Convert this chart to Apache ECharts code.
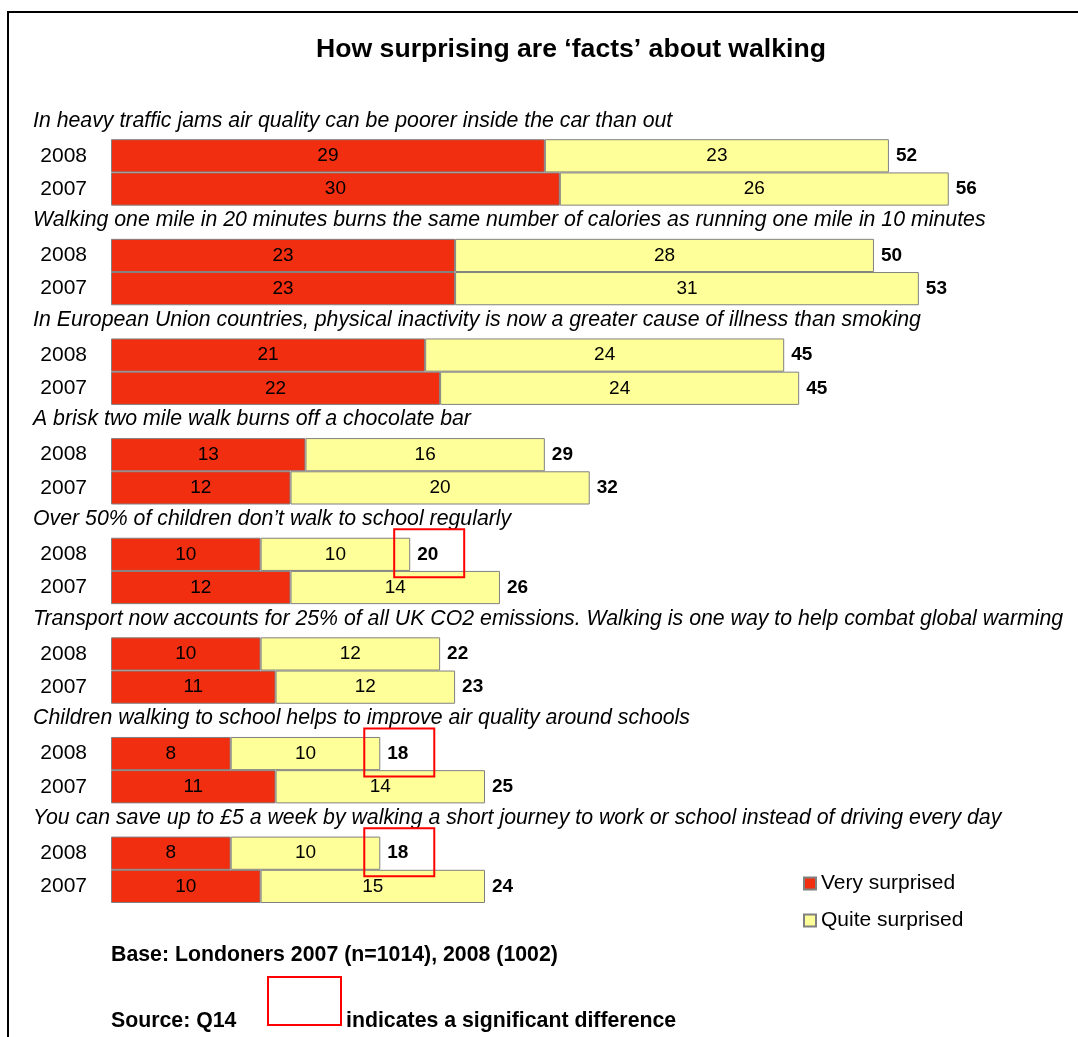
<!DOCTYPE html>
<html>
<head>
<meta charset="utf-8">
<script src="https://cdn.jsdelivr.net/npm/echarts@6/dist/echarts.min.js"></script>
<style>
html,body{margin:0;padding:0;background:#fff;}
#chart{width:1078px;height:1037px;}
</style>
</head>
<body>
<div id="chart"></div>
<script>
const statements = [
  "In heavy traffic jams air quality can be poorer inside the car than out",
  "Walking one mile in 20 minutes burns the same number of calories as running one mile in 10 minutes",
  "In European Union countries, physical inactivity is now a greater cause of illness than smoking",
  "A brisk two mile walk burns off a chocolate bar",
  "Over 50% of children don\u2019t walk to school regularly",
  "Transport now accounts for 25% of all UK CO2 emissions. Walking is one way to help combat global warming",
  "Children walking to school helps to improve air quality around schools",
  "You can save up to \u00a35 a week by walking a short journey to work or school instead of driving every day"
];
const years = ["2008", "2007"];
const very2008  = [29, 23, 21, 13, 10, 10, 8, 8];
const quite2008 = [23, 28, 24, 16, 10, 12, 10, 10];
const total2008 = [52, 50, 45, 29, 20, 22, 18, 18];
const very2007  = [30, 23, 22, 12, 12, 11, 11, 10];
const quite2007 = [26, 31, 24, 20, 14, 12, 14, 15];
const total2007 = [56, 53, 45, 32, 26, 23, 25, 24];
const significant2008 = [false, false, false, false, true, false, true, true];

// Build category slots: [statement, 2008, 2007] per statement
const cats = [], yearLabel = [], veryData = [], quiteData = [], totalData = [], stmtData = [];
statements.forEach((s, g) => {
  const base = g * 3;
  cats.push(String(base), String(base + 1), String(base + 2));
  yearLabel.push("", years[0], years[1]);
  veryData.push("-", very2008[g], very2007[g]);
  quiteData.push("-", quite2008[g], quite2007[g]);
  stmtData.push([0, base, g]);
  totalData.push([very2008[g] + quite2008[g], base + 1, total2008[g], significant2008[g] ? 1 : 0]);
  totalData.push([very2007[g] + quite2007[g], base + 2, total2007[g], 0]);
});

const FONT = "Liberation Sans, Arial, sans-serif";
const chart = echarts.init(document.getElementById('chart'));
chart.setOption({
  animation: false,
  backgroundColor: '#ffffff',
  title: {
    text: "How surprising are \u2018facts\u2019 about walking",
    left: 566, top: 31, textAlign: 'center',
    textStyle: {fontFamily: FONT, fontSize: 26.6, fontWeight: 'bold', color: '#000'}
  },
  legend: {
    orient: 'vertical', left: 798, top: 868, itemGap: 16,
    itemWidth: 12, itemHeight: 12, icon: 'rect',
    textStyle: {fontFamily: FONT, fontSize: 21, color: '#000'},
    data: ['Very surprised', 'Quite surprised']
  },
  grid: {left: 111, top: 106, width: 897.6, height: 797, containLabel: false},
  xAxis: {type: 'value', min: 0, max: 60, show: false},
  yAxis: {
    type: 'category', inverse: true, data: cats,
    axisLine: {show: false}, axisTick: {show: false},
    axisLabel: {
      margin: 24, fontFamily: FONT, fontSize: 21, color: '#000',
      formatter: (v, i) => yearLabel[i]
    }
  },
  series: [
    {
      name: 'Very surprised', type: 'bar', stack: 'a', barCategoryGap: 0, barWidth: '100%',
      data: veryData,
      itemStyle: {color: '#F22E10', borderColor: '#808080', borderWidth: 1},
      label: {show: true, position: 'inside', fontFamily: FONT, fontSize: 19, color: '#000'}
    },
    {
      name: 'Quite surprised', type: 'bar', stack: 'a', barCategoryGap: 0, barWidth: '100%',
      data: quiteData,
      itemStyle: {color: '#FFFF99', borderColor: '#808080', borderWidth: 1},
      label: {show: true, position: 'inside', fontFamily: FONT, fontSize: 19, color: '#000'}
    },
    {
      name: 'statements', type: 'custom', data: stmtData, silent: true, z: 5,
      renderItem: (params, api) => {
        const p = api.coord([0, api.value(1)]);
        return {
          type: 'text',
          style: {
            text: statements[api.value(2)], x: 33, y: p[1] - 2,
            font: 'italic 21.3px ' + FONT, fill: '#000',
            textAlign: 'left', textVerticalAlign: 'middle'
          }
        };
      }
    },
    {
      name: 'totals', type: 'custom', data: totalData, silent: true, z: 5,
      renderItem: (params, api) => {
        const p = api.coord([api.value(0), api.value(1)]);
        const children = [{
          type: 'text',
          style: {
            text: String(api.value(2)), x: p[0] + 7, y: p[1],
            font: 'bold 19px ' + FONT, fill: '#000',
            textAlign: 'left', textVerticalAlign: 'middle'
          }
        }];
        if (api.value(3) === 1) {
          children.push({
            type: 'rect',
            shape: {x: p[0] - 16, y: p[1] - 25, width: 70, height: 48},
            style: {fill: 'none', stroke: '#FF0000', lineWidth: 2}
          });
        }
        return {type: 'group', children};
      }
    }
  ],
  graphic: [
    {type: 'polyline', shape: {points: [[8, 1040], [8, 12], [1080, 12]]},
     style: {stroke: '#000', lineWidth: 2, fill: 'none'}},
    {type: 'text', left: 111, top: 945,
     style: {text: 'Base: Londoners 2007 (n=1014), 2008 (1002)', font: 'bold 21.3px ' + FONT, fill: '#000'}},
    {type: 'text', left: 111, top: 1011,
     style: {text: 'Source: Q14', font: 'bold 21.3px ' + FONT, fill: '#000'}},
    {type: 'rect', shape: {x: 268, y: 977, width: 73, height: 48},
     style: {fill: 'none', stroke: '#FF0000', lineWidth: 2}},
    {type: 'text', left: 346, top: 1011,
     style: {text: 'indicates a significant difference', font: 'bold 21.3px ' + FONT, fill: '#000'}}
  ]
});
</script>
</body>
</html>
